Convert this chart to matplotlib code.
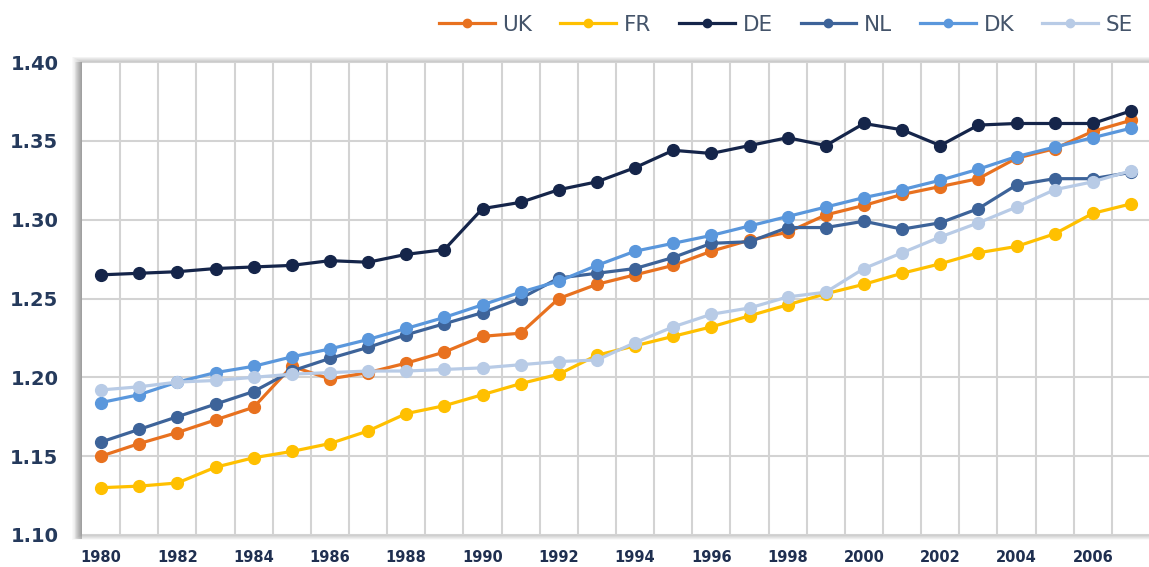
import matplotlib
matplotlib.use("Agg")
import matplotlib.pyplot as plt
from matplotlib.patches import Rectangle
from matplotlib.lines import Line2D
from matplotlib.font_manager import FontProperties

years = list(range(1980, 2008))
uk = [1.150, 1.158, 1.165, 1.173, 1.181, 1.207, 1.199, 1.203, 1.209, 1.216,
      1.226, 1.228, 1.250, 1.259, 1.265, 1.271, 1.280, 1.287, 1.292, 1.303,
      1.309, 1.316, 1.321, 1.326, 1.339, 1.345, 1.356, 1.363]
fr = [1.130, 1.131, 1.133, 1.143, 1.149, 1.153, 1.158, 1.166, 1.177, 1.182,
      1.189, 1.196, 1.202, 1.214, 1.220, 1.226, 1.232, 1.239, 1.246, 1.253,
      1.259, 1.266, 1.272, 1.279, 1.283, 1.291, 1.304, 1.310]
de = [1.265, 1.266, 1.267, 1.269, 1.270, 1.271, 1.274, 1.273, 1.278, 1.281,
      1.307, 1.311, 1.319, 1.324, 1.333, 1.344, 1.342, 1.347, 1.352, 1.347,
      1.361, 1.357, 1.347, 1.360, 1.361, 1.361, 1.361, 1.369]
nl = [1.159, 1.167, 1.175, 1.183, 1.191, 1.204, 1.212, 1.219, 1.227, 1.234,
      1.241, 1.250, 1.263, 1.266, 1.269, 1.276, 1.285, 1.286, 1.295, 1.295,
      1.299, 1.294, 1.298, 1.307, 1.322, 1.326, 1.326, 1.330]
dk = [1.184, 1.189, 1.197, 1.203, 1.207, 1.213, 1.218, 1.224, 1.231, 1.238,
      1.246, 1.254, 1.261, 1.271, 1.280, 1.285, 1.290, 1.296, 1.302, 1.308,
      1.314, 1.319, 1.325, 1.332, 1.340, 1.346, 1.352, 1.358]
se = [1.192, 1.194, 1.197, 1.198, 1.200, 1.202, 1.203, 1.204, 1.204, 1.205,
      1.206, 1.208, 1.210, 1.211, 1.222, 1.232, 1.240, 1.244, 1.251, 1.254,
      1.269, 1.279, 1.289, 1.298, 1.308, 1.319, 1.324, 1.331]

labels = ["UK", "FR", "DE", "NL", "DK", "SE"]
series = [uk, fr, de, nl, dk, se]
colors = ["#E8711F", "#FFC000", "#15254A", "#3D6399", "#5A97DC", "#B8CBE6"]
yticks = [1.10, 1.15, 1.20, 1.25, 1.30, 1.35, 1.40]
xtick_years = list(range(1980, 2007, 2))

plt.rcParams["font.family"] = ["DejaVu Sans"]

W, H = 1149, 567
fig = plt.figure(figsize=(W / 100, H / 100), dpi=100)
px_l, px_r, px_t, px_b = 82, 1150, 62, 535

# soft shadow behind the plot area (pixel coordinates)
for k in range(1, 11):
    fig.patches.append(Rectangle((px_l - k, H - px_b - k * 0.45), (px_r - px_l) + k,
                                 (px_b - px_t) + k * 1.0,
                                 transform=None, facecolor="#606060",
                                 alpha=0.035, edgecolor="none", zorder=0))
for k in range(1, 8):
    fig.patches.append(Rectangle((px_l - k, H - px_b - 4), k, (px_b - px_t) + 4,
                                 transform=None, facecolor="#707070",
                                 alpha=0.08, edgecolor="none", zorder=0))

ax = fig.add_axes([px_l / W, (H - px_b) / H, (px_r - px_l) / W, (px_b - px_t) / H])
ax.set_facecolor("white")
ax.set_zorder(1)

for lab, vals, c in zip(labels, series, colors):
    ax.plot(years, vals, color=c, lw=2.3, marker="o", markersize=8.5,
            markeredgecolor=c, label=lab, zorder=3)

ax.set_xlim(years[0] - 0.5, years[-1] + 0.5)
ax.set_ylim(1.10, 1.40)
ax.set_yticks(yticks)
ax.set_yticklabels([f"{v:.2f}" for v in yticks])
ax.set_xticks(xtick_years)
ax.set_xticklabels([str(y) for y in xtick_years])
ax.grid(False)
for y in yticks:
    ax.axhline(y, color="#D3D3D3", lw=1.5, zorder=1)
for x in years[:-1]:
    ax.axvline(x + 0.5, color="#D3D3D3", lw=1.5, zorder=1)
for s in ax.spines.values():
    s.set_visible(False)
ax.tick_params(axis="both", which="both", length=0)
ax.tick_params(axis="y", labelsize=14, labelcolor="#253A5C", pad=17)
ax.tick_params(axis="x", labelsize=10.5, labelcolor="#1F2F50", pad=11)
for t in ax.get_yticklabels() + ax.get_xticklabels():
    t.set_fontweight("bold")

handles = [Line2D([0], [0], color=c, lw=2.3, marker="o", markersize=6) for c in colors]
lprop = FontProperties(family="DejaVu Sans", size=15.5)
fig.legend(handles, labels, loc="center right", bbox_to_anchor=(1133 / W, 1 - 25 / H), ncol=6,
           frameon=False, prop=lprop, handlelength=2.6, handletextpad=0.35,
           columnspacing=1.3, labelcolor="#44546A", borderaxespad=0, borderpad=0)

fig.savefig("out.png", dpi=100)
